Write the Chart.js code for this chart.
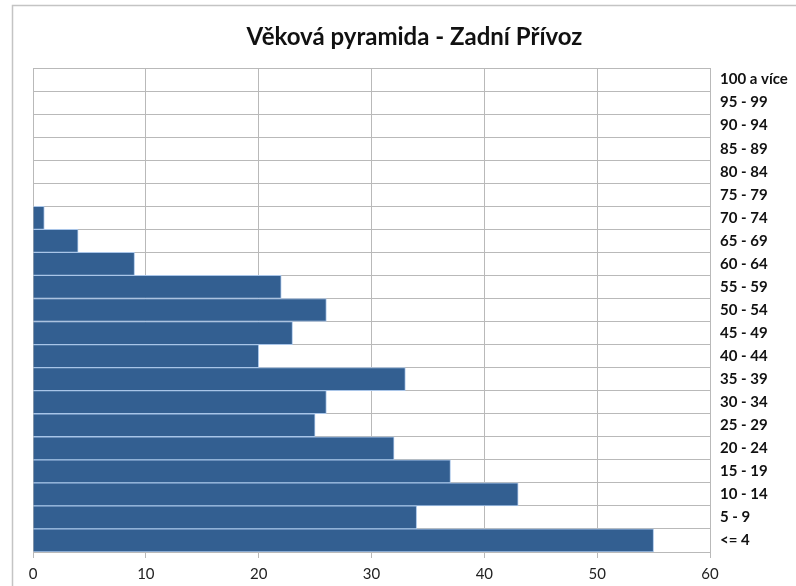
<!DOCTYPE html>
<html>
<head>
<meta charset="utf-8">
<script src="https://cdn.jsdelivr.net/npm/chart.js@4"></script>
<style>
  html, body { margin: 0; padding: 0; background: #fff; }
  #wrap { width: 796px; height: 586px; }
</style>
</head>
<body>
<div id="wrap"><canvas id="pyramid"></canvas></div>
<script>
const ageGroups = ['100 a více', '95 - 99', '90 - 94', '85 - 89', '80 - 84', '75 - 79', '70 - 74',
    '65 - 69', '60 - 64', '55 - 59', '50 - 54', '45 - 49', '40 - 44', '35 - 39', '30 - 34',
    '25 - 29', '20 - 24', '15 - 19', '10 - 14', '5 - 9', '<= 4'];
const people = [0, 0, 0, 0, 0, 0, 1, 4, 9, 22, 26, 23, 20, 33, 26, 25, 32, 37, 43, 34, 55];
const xTicks = [0, 10, 20, 30, 40, 50, 60];

const outerFrame = {
    id: 'outerFrame',
    beforeDraw(chart) {
        const ctx = chart.ctx;
        ctx.save();
        ctx.strokeStyle = '#c4c4c4';
        ctx.lineWidth = 1.5;
        ctx.strokeRect(12.5, 5.5, 820, 620);
        ctx.restore();
    }
};

new Chart(document.getElementById('pyramid'), {
    type: 'bar',
    data: {
        labels: ageGroups,
        datasets: [{
            label: 'Počet obyvatel',
            data: people,
            backgroundColor: '#335f91',
            borderColor: '#a9c5e8',
            borderWidth: 1,
            barPercentage: 1,
            categoryPercentage: 1
        }]
    },
    options: {
        indexAxis: 'y',
        responsive: true,
        maintainAspectRatio: false,
        animation: false,
        layout: { padding: { left: 33, right: 0, top: 0, bottom: 4 } },
        plugins: {
            legend: { display: false },
            tooltip: { enabled: false },
            title: {
                display: true,
                text: 'Věková pyramida - Zadní Přívoz',
                color: '#111',
                font: { family: 'Lato', size: 24, weight: 'bold' },
                padding: { top: 22.6, bottom: 16.6 }
            }
        },
        scales: {
            x: {
                min: 0,
                max: 60,
                afterBuildTicks: (s) => { s.ticks = xTicks.map(v => ({ value: v })); },
                afterFit: (s) => { s.height = 30; },
                grid: { color: '#b9b9b9', tickLength: 6 },
                border: { color: '#b9b9b9' },
                ticks: { color: '#222', padding: 7, font: { family: 'Lato', size: 15 } }
            },
            y: {
                position: 'right',
                afterFit: (s) => { s.width = 86; },
                grid: { color: '#b9b9b9', offset: true, drawTicks: false },
                border: { color: '#b9b9b9' },
                ticks: { color: '#111', padding: 10, font: { family: 'Lato', size: 15, weight: 'bold' } }
            }
        }
    },
    plugins: [outerFrame]
});
</script>
</body>
</html>
